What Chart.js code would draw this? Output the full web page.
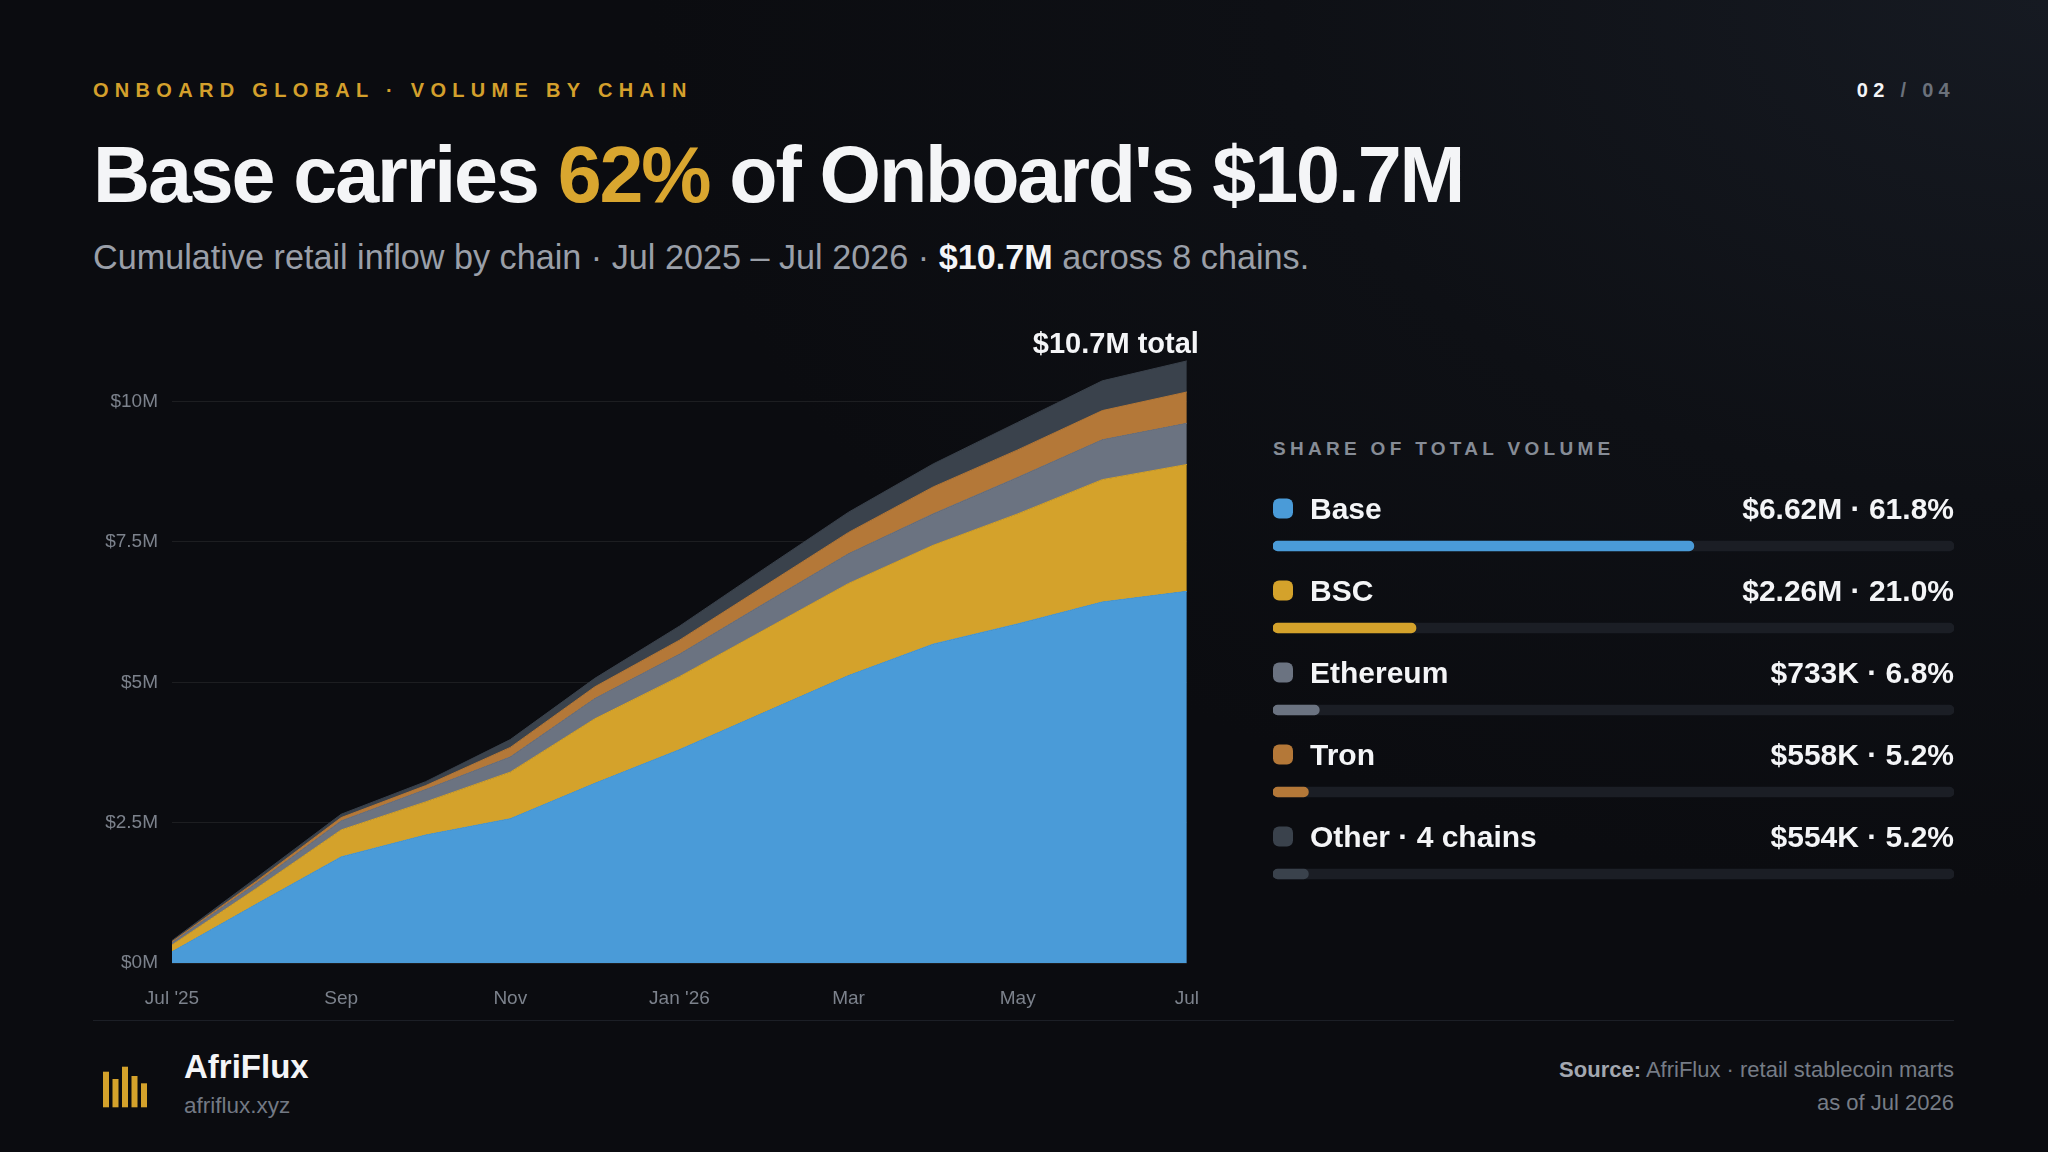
<!DOCTYPE html>
<html>
<head>
<meta charset="utf-8">
<script src="https://cdn.jsdelivr.net/npm/chart.js@4"></script>
<style>
  html, body { margin: 0; padding: 0; }
  body {
    width: 2048px; height: 1152px; overflow: hidden; position: relative;
    background: radial-gradient(ellipse 1400px 900px at 100% 0%, #161a22 0%, #0e1015 55%, #0b0c10 100%);
    font-family: "Liberation Sans", Arial, Helvetica, sans-serif;
    color: #f4f5f7;
  }
  .abs { position: absolute; white-space: nowrap; line-height: 1; }
  .eyebrow { left: 93px; top: 80px; font-size: 20px; font-weight: 700; letter-spacing: 6.3px; color: #d4a02c; }
  .pager { right: 93px; top: 80px; font-size: 20px; font-weight: 700; letter-spacing: 5.3px; color: #6b717b; }
  .pager b { color: #f4f5f7; }
  .title { left: 93px; top: 135px; font-size: 79px; font-weight: 700; letter-spacing: -2.1px; color: #f4f5f7; }
  .title span { color: #d9a62f; }
  .sub { left: 93px; top: 240px; font-size: 34.2px; color: #9a9fa8; }
  .sub b { color: #f4f5f7; }
  .share-h { left: 1273px; top: 439px; font-size: 19px; font-weight: 700; letter-spacing: 4.3px; color: #868c96; }
  .rule { left: 93px; top: 1020px; width: 1861px; height: 1px; background: #1c1f26; }
  .brand { left: 184px; top: 1050px; font-size: 33px; font-weight: 700; color: #f4f5f7; }
  .site { left: 184px; top: 1095px; font-size: 22.5px; color: #737984; }
  .source { right: 94px; top: 1053px; font-size: 22px; line-height: 33px; text-align: right; color: #767c86; }
  .source b { color: #a3a8b0; }
  canvas { position: absolute; }
</style>
</head>
<body>
<div class="abs eyebrow">ONBOARD GLOBAL · VOLUME BY CHAIN</div>
<div class="abs pager"><b>02</b> / 04</div>
<div class="abs title">Base carries <span>62%</span> of Onboard's $10.7M</div>
<div class="abs sub">Cumulative retail inflow by chain · Jul 2025 – Jul 2026 · <b>$10.7M</b> across 8 chains.</div>

<canvas id="area" width="1163" height="728" style="left:60px; top:292px;"></canvas>

<div class="abs share-h">SHARE OF TOTAL VOLUME</div>
<canvas id="share" width="681" height="460" style="left:1273px; top:460px;"></canvas>

<div class="abs rule"></div>
<svg class="abs" style="left:100px; top:1060px;" width="52" height="52">
  <rect x="3" y="11.7" width="6" height="35.6" fill="#d4a22b"/>
  <rect x="12.5" y="19" width="6" height="28.3" fill="#d4a22b"/>
  <rect x="22" y="6.7" width="6" height="40.6" fill="#d4a22b"/>
  <rect x="31.5" y="16" width="6" height="31.3" fill="#d4a22b"/>
  <rect x="41" y="23.3" width="6" height="24" fill="#d4a22b"/>
</svg>
<div class="abs brand">AfriFlux</div>
<div class="abs site">afriflux.xyz</div>
<div class="abs source"><b>Source:</b> AfriFlux · retail stablecoin marts<br>as of Jul 2026</div>

<script>
// months, Jul 2025 .. Jul 2026 (every other one is labelled)
const months = ["Jul '25", 'Aug', 'Sep', 'Oct', 'Nov', 'Dec', "Jan '26", 'Feb', 'Mar', 'Apr', 'May', 'Jun', 'Jul'];

// cumulative inflow per chain, $M
const baseVol  = [0.20, 1.05, 1.89, 2.28, 2.57, 3.20, 3.80, 4.46, 5.12, 5.68, 6.04, 6.43, 6.62];
const bscVol   = [0.12, 0.28, 0.48, 0.59, 0.83, 1.15, 1.30, 1.47, 1.64, 1.76, 1.96, 2.18, 2.26];
const ethVol   = [0.04, 0.09, 0.16, 0.22, 0.27, 0.36, 0.40, 0.47, 0.53, 0.56, 0.65, 0.71, 0.733];
const tronVol  = [0.02, 0.04, 0.06, 0.07, 0.17, 0.21, 0.25, 0.31, 0.38, 0.48, 0.49, 0.52, 0.558];
const otherVol = [0.02, 0.06, 0.06, 0.07, 0.14, 0.15, 0.25, 0.31, 0.36, 0.41, 0.49, 0.53, 0.554];

const yTicks = [0, 2.5, 5, 7.5, 10];
const totalLabel = '$10.7M total';

// share panel
const chainNames = ['Base', 'BSC', 'Ethereum', 'Tron', 'Other · 4 chains'];
const shareAmounts = ['$6.62M', '$2.26M', '$733K', '$558K', '$554K'];
const sharePct = [61.8, 21.0, 6.8, 5.2, 5.2];

const colors = {
  base: '#4a9bd8',
  bsc: '#d4a22b',
  eth: '#6b7381',
  tron: '#b47838',
  other: '#3a424c'
};
const chainColors = [colors.base, colors.bsc, colors.eth, colors.tron, colors.other];

const FONT = '"Liberation Sans", Arial, Helvetica, sans-serif';
Chart.defaults.font.family = FONT;

function layer(label, data, color, fill) {
  return {
    label: label, data: data, fill: fill,
    backgroundColor: color, borderColor: color, borderWidth: 1,
    pointRadius: 0, tension: 0
  };
}

// total label above the last stacked point
const totalPlugin = {
  id: 'totalLabel',
  afterDatasetsDraw(chart) {
    const meta = chart.getDatasetMeta(chart.data.datasets.length - 1);
    const pt = meta.data[meta.data.length - 1];
    const ctx = chart.ctx;
    ctx.save();
    ctx.font = '700 29px ' + FONT;
    ctx.fillStyle = '#f4f5f7';
    ctx.textAlign = 'right';
    ctx.textBaseline = 'alphabetic';
    ctx.fillText(totalLabel, pt.x + 12, pt.y - 8);
    ctx.restore();
  }
};

new Chart(document.getElementById('area'), {
  type: 'line',
  data: {
    labels: months,
    datasets: [
      layer('Base', baseVol, colors.base, 'origin'),
      layer('BSC', bscVol, colors.bsc, '-1'),
      layer('Ethereum', ethVol, colors.eth, '-1'),
      layer('Tron', tronVol, colors.tron, '-1'),
      layer('Other', otherVol, colors.other, '-1')
    ]
  },
  options: {
    responsive: false,
    devicePixelRatio: 1,
    animation: false,
    layout: { padding: { top: 5.6, right: 31, bottom: 0, left: 0 } },
    plugins: { legend: { display: false }, tooltip: { enabled: false } },
    scales: {
      x: {
        grid: { display: false, drawTicks: false },
        border: { display: false },
        afterFit: s => { s.height = 57; },
        ticks: {
          autoSkip: false, maxRotation: 0, padding: 24,
          color: '#7c828c', font: { size: 19 },
          callback: (v, i) => (i % 2 === 0 ? months[i] : '')
        }
      },
      y: {
        stacked: true, min: 0, max: 11.5,
        afterFit: s => { s.width = 112; },
        afterBuildTicks: s => { s.ticks = yTicks.map(v => ({ value: v })); },
        grid: { color: 'rgba(255,255,255,0.075)', lineWidth: 1, drawTicks: false },
        border: { display: false },
        ticks: {
          padding: 14, color: '#7c828c', font: { size: 19 },
          callback: v => '$' + v + 'M'
        }
      }
    }
  },
  plugins: [totalPlugin]
});

// name, dot and value above each share bar
const sharePlugin = {
  id: 'shareText',
  afterDatasetsDraw(chart) {
    const ctx = chart.ctx;
    const area = chart.chartArea;
    const ys = chart.scales.y;
    ctx.save();
    chainNames.forEach((name, i) => {
      const cy = ys.getPixelForValue(i) - 37.5;
      ctx.fillStyle = chainColors[i];
      ctx.beginPath();
      ctx.roundRect(area.left, cy - 10, 20, 20, 6);
      ctx.fill();
      ctx.font = '700 30px ' + FONT;
      ctx.fillStyle = '#f4f5f7';
      ctx.textBaseline = 'alphabetic';
      ctx.textAlign = 'left';
      ctx.fillText(name, area.left + 37, cy + 10.7);
      ctx.textAlign = 'right';
      ctx.fillText(shareAmounts[i] + ' · ' + sharePct[i].toFixed(1) + '%', area.right, cy + 10.7);
    });
    ctx.restore();
  }
};

new Chart(document.getElementById('share'), {
  type: 'bar',
  data: {
    labels: chainNames,
    datasets: [
      {
        data: sharePct, backgroundColor: chainColors,
        barThickness: 10, borderRadius: 5, borderSkipped: false, grouped: false, order: 1
      },
      {
        data: sharePct.map(() => 100), backgroundColor: '#1b1e25',
        barThickness: 10, borderRadius: 5, borderSkipped: false, grouped: false, order: 2
      }
    ]
  },
  options: {
    indexAxis: 'y',
    responsive: false,
    devicePixelRatio: 1,
    animation: false,
    layout: { padding: { top: 45, bottom: 5, left: 0, right: 0 } },
    plugins: { legend: { display: false }, tooltip: { enabled: false } },
    scales: {
      x: { display: false, min: 0, max: 100 },
      y: { display: false }
    }
  },
  plugins: [sharePlugin]
});
</script>
</body>
</html>
